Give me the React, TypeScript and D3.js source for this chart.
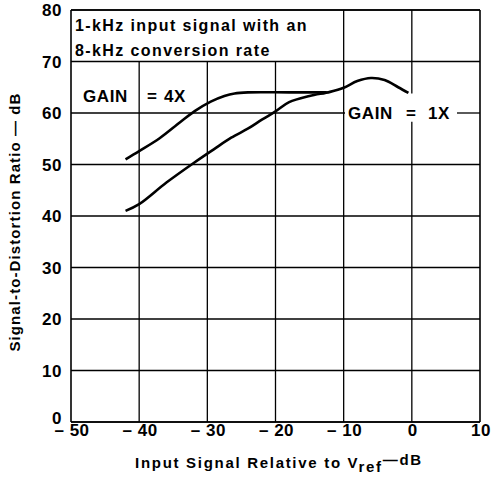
import React from "react";
import * as d3 from "d3";

const xTicks = [-50, -40, -30, -20, -10, 0, 10];
const xTickLabels = ["\u2013 50", "\u2013 40", "\u2013 30", "\u2013 20", "\u2013 10", "0", "10"];
const yTicks = [0, 10, 20, 30, 40, 50, 60, 70, 80];

const gain4xX = [-42, -40, -37, -34, -31.8, -29.5, -27.5, -26, -24, -18, -12.5];
const gain4xY = [51, 52.6, 55.1, 58.2, 60.4, 62.2, 63.3, 63.8, 64, 64, 64];

const gain1xX = [-42, -40, -36, -32, -29, -26.5, -24, -22, -20, -18, -15, -12, -10, -8, -6, -4, -2, -0.5];
const gain1xY = [41, 42.3, 46.5, 50.3, 53, 55.2, 57, 58.7, 60.3, 62.1, 63.3, 64.1, 64.9, 66.2, 66.8, 66.4, 65, 63.9];

const W = 493;
const H = 477;

export default function App() {
  const x = d3.scaleLinear().domain([-50, 10]).range([71, 480]);
  const y = d3.scaleLinear().domain([0, 80]).range([422, 10]);

  const line = d3
    .line<[number, number]>()
    .x((d) => x(d[0]))
    .y((d) => y(d[1]))
    .curve(d3.curveCatmullRom.alpha(0.5));

  const d4 = line(gain4xX.map((v, i) => [v, gain4xY[i]] as [number, number])) || "";
  const d1 = line(gain1xX.map((v, i) => [v, gain1xY[i]] as [number, number])) || "";

  const font = "'Liberation Sans', Arial, Helvetica, sans-serif";
  const gridStroke = 1.3;

  // label gap for GAIN = 1X on the 60 line
  const labelLeft = 345;
  const labelRight = 457;

  return (
    <svg width={W} height={H} style={{ position: "absolute", left: 0, top: 0, background: "#fff" }}>
      <rect x={0} y={0} width={W} height={H} fill="#fff" />
      <g stroke="#000" strokeWidth={gridStroke} fill="none">
        {/* horizontal grid lines */}
        {yTicks.map((t) => {
          if (t === 60) {
            return (
              <g key={t}>
                <line x1={x(-50)} x2={labelLeft} y1={y(t)} y2={y(t)} />
                <line x1={labelRight} x2={x(10)} y1={y(t)} y2={y(t)} />
              </g>
            );
          }
          return <line key={t} x1={x(-50)} x2={x(10)} y1={y(t)} y2={y(t)} />;
        })}
        {/* vertical grid lines */}
        {xTicks.map((t) => {
          if (t === -50 || t === 10) {
            return <line key={t} x1={x(t)} x2={x(t)} y1={y(0)} y2={y(80)} strokeWidth={1.6} />;
          }
          if (t === -10) {
            return <line key={t} x1={x(t)} x2={x(t)} y1={y(0)} y2={y(80)} />;
          }
          if (t === 0) {
            return (
              <g key={t}>
                <line x1={x(t)} x2={x(t)} y1={y(80)} y2={y(63.8)} />
                <line x1={x(t)} x2={x(t)} y1={y(58.3)} y2={y(0)} />
              </g>
            );
          }
          return <line key={t} x1={x(t)} x2={x(t)} y1={y(0)} y2={y(70)} />;
        })}
        <line x1={x(-50)} x2={x(10)} y1={y(0)} y2={y(0)} strokeWidth={1.6} />
        <line x1={x(-50)} x2={x(10)} y1={y(80)} y2={y(80)} strokeWidth={1.6} />
      </g>

      {/* curves */}
      <path d={d4} fill="none" stroke="#000" strokeWidth={2.6} strokeLinecap="butt" />
      <path d={d1} fill="none" stroke="#000" strokeWidth={2.6} strokeLinecap="butt" />

      {/* annotations */}
      <g fontFamily={font} fontWeight="bold" fill="#000">
        <text x={75} y={31} fontSize={16} letterSpacing={1.4}>1-kHz input signal with an</text>
        <text x={75} y={56} fontSize={16} letterSpacing={1.4}>8-kHz conversion rate</text>
        <text y={102} fontSize={17} letterSpacing={0.6}>
          <tspan x={83}>GAIN</tspan>
          <tspan x={147}>=</tspan>
          <tspan x={164}>4X</tspan>
        </text>
        <text y={y(60) + 6} fontSize={17} letterSpacing={0.6}>
          <tspan x={348}>GAIN</tspan>
          <tspan x={406}>=</tspan>
          <tspan x={428}>1X</tspan>
        </text>
      </g>

      {/* y tick labels */}
      <g fontFamily={font} fontWeight="bold" fontSize={17} fill="#000" letterSpacing={0.5}>
        {yTicks.map((t) => (
          <text key={t} x={t === 0 ? 62 : 62} y={t === 0 ? y(t) + 2 : y(t) + 6} textAnchor="end">
            {t}
          </text>
        ))}
      </g>

      {/* x tick labels */}
      <g fontFamily={font} fontWeight="bold" fontSize={17} fill="#000" letterSpacing={0.5}>
        {xTicks.map((t, i) => (
          <text key={t} x={x(t) + 1} y={436} textAnchor="middle">
            {xTickLabels[i]}
          </text>
        ))}
      </g>

      {/* axis titles */}
      <text
        x={279}
        y={468}
        textAnchor="middle"
        fontFamily={font}
        fontWeight="bold"
        fontSize={15}
        letterSpacing={1.7}
      >
        Input Signal Relative to V
        <tspan dy={4}>ref</tspan>
        <tspan dy={-7}>{"\u2014"}</tspan>
        <tspan>dB</tspan>
      </text>
      <text
        transform={`translate(20, 222) rotate(-90)`}
        textAnchor="middle"
        fontFamily={font}
        fontWeight="bold"
        fontSize={15}
        letterSpacing={1.1}
      >
        {"Signal-to-Distortion Ratio \u2014 dB"}
      </text>
    </svg>
  );
}
